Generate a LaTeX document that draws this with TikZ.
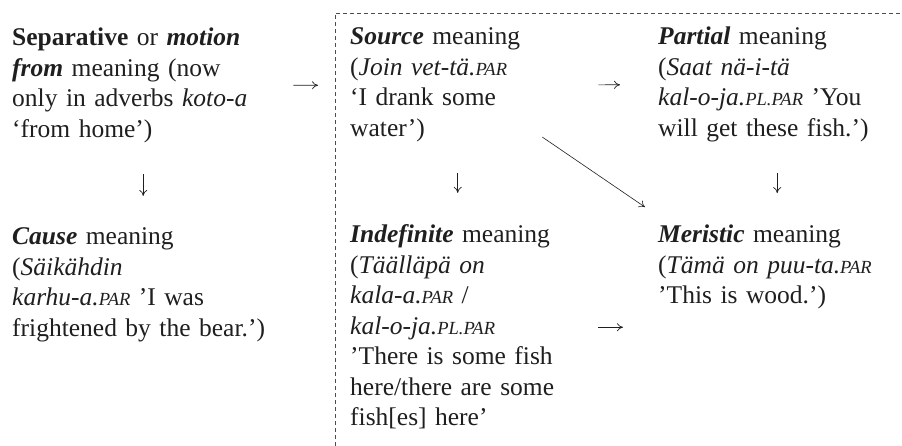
\documentclass[tikz,border=0pt]{standalone}
\usepackage{fontspec}
\setmainfont{Liberation Serif}
\usepackage{tikz}
\usetikzlibrary{arrows.meta}

% small caps for the glosses
\newcommand{\glabbr}[1]{{\fontsize{18.5}{18.5}\selectfont #1}}

\begin{document}
\begin{tikzpicture}[x=1pt, y=1pt,
        meaning/.style={text width=#1, align=left, inner sep=0pt, anchor=base west,
            text=black!88, font=\fontsize{25.5}{30.5}\selectfont},
        shift arrow/.style={-{To[length=6pt,width=8pt]}, line width=0.7pt, black!88}]
        \useasboundingbox (0,0) rectangle (902,-446);
        % group of the partitive meanings
        \draw[dash pattern=on 4pt off 3pt, line width=0.8pt, black!70] (335,-446) |- (902,-13);
        \node[meaning=262pt] at (12,-46) (sep) {\textbf{Separative} or \textbf{\textit{motion}}\\ \textbf{\textit{from}} meaning (now\\ only in adverbs \textit{koto-a}\\ ‘from home’)};
        \node[meaning=215pt] at (350,-45) (src) {\textbf{\textit{Source}} meaning\\ (\textit{Join vet-tä.\glabbr{PAR}}\\ ‘I drank some\\ water’)};
        \node[meaning=238pt] at (658,-45) (part) {\textbf{\textit{Partial}} meaning\\ (\textit{Saat nä-i-tä}\\ \textit{kal-o-ja.\glabbr{PL.PAR}} ’You\\ will get these fish.’)};
        \node[meaning=262pt] at (12,-245) (cause) {\textbf{\textit{Cause}} meaning\\ (\textit{Säikähdin}\\ \textit{karhu-a.\glabbr{PAR}} ’I was\\ frightened by the bear.’)};
        \node[meaning=215pt] at (350,-243) (indef) {\textbf{\textit{Indefinite}} meaning\\ (\textit{Täälläpä on}\\ \textit{kala-a.\glabbr{PAR}} /\\ \textit{kal-o-ja.\glabbr{PL.PAR}}\\ ’There is some fish\\ here/there are some\\ fish[es] here’};
        \node[meaning=238pt] at (658,-243) (mer) {\textbf{\textit{Meristic}} meaning\\ (\textit{Tämä on puu-ta.\glabbr{PAR}}\\ ’This is wood.’)};
        \draw[shift arrow, shorten <=19pt, shorten >=32pt] (sep) -- (src);
        \draw[shift arrow, shorten <=33pt, shorten >=38pt] (src) -- (part);
        \draw[shift arrow, shorten <=31pt, shorten >=32pt] (sep) -- (sep |- cause.north);
        \draw[shift arrow, shorten <=31pt, shorten >=32pt] (src) -- (src |- indef.north);
        \draw[shift arrow, shorten <=31pt, shorten >=32pt] (part) -- (part |- mer.north);
        \draw[shift arrow, shorten <=33pt, shorten >=35pt] (indef) -- (indef -| mer.west);
        \draw[shift arrow, line width=0.6pt] ([shift={(-23,5)}]src.south east) -- ([shift={(-13,18)}]mer.north west);
    \end{tikzpicture}
\end{document}
